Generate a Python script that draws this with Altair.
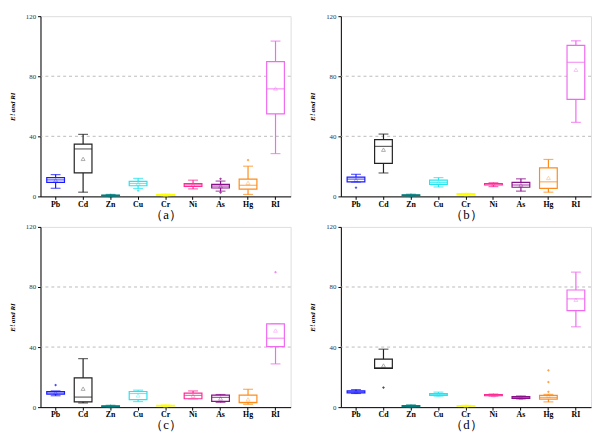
import altair as alt
import pandas as pd

CATS = ["Pb", "Cd", "Zn", "Cu", "Cr", "Ni", "As", "Hg", "RI"]
COLORS = ["#1a1aff", "#222222", "#008080", "#22e6f0", "#ffff00", "#ff2a95", "#8b108b", "#ff8c1a", "#f06af0"]
GRID = [40, 80]

# panel (a)
A_LO = [5.4, 2.8, 0.2, 5.2, 0.5, 5.0, 3.5, 1.3, 28.5]
A_Q1 = [9.3, 15.6, 0.4, 7.1, 0.7, 6.7, 5.6, 4.8, 54.9]
A_MED = [11.0, 31.6, 0.6, 8.6, 0.9, 7.8, 6.9, 7.4, 71.6]
A_Q3 = [12.5, 34.8, 0.9, 10.0, 1.2, 8.6, 8.0, 11.5, 89.7]
A_HI = [14.5, 41.3, 1.3, 12.0, 1.6, 10.8, 10.2, 20.1, 103.4]
A_MEAN = [10.8, 25.0, 0.6, 8.6, 1.0, 7.8, 6.8, 9.0, 71.8]
A_OUT_CAT = ["Cu", "As", "As", "Hg"]
A_OUT_VAL = [3.9, 11.7, 2.6, 24.2]

# panel (b)
B_LO = [9.6, 15.6, 0.3, 6.3, 0.8, 6.5, 3.5, 2.8, 49.3]
B_Q1 = [9.7, 22.0, 0.5, 8.0, 1.0, 7.6, 6.1, 5.4, 64.6]
B_MED = [11.5, 33.3, 0.8, 9.3, 1.4, 8.2, 7.6, 9.7, 89.3]
B_Q3 = [12.8, 37.8, 1.1, 10.8, 1.8, 8.6, 9.3, 19.0, 100.5]
B_HI = [14.7, 41.5, 1.4, 12.5, 2.0, 9.1, 11.7, 24.6, 103.6]
B_MEAN = [11.0, 31.1, 0.8, 9.3, 1.4, 8.0, 7.7, 12.3, 84.3]
B_OUT_CAT = ["Pb"]
B_OUT_VAL = [5.8]

# panel (c)
C_LO = [7.6, 2.8, 0.2, 3.7, 0.6, 5.6, 3.2, 1.9, 28.8]
C_Q1 = [8.7, 3.5, 0.4, 5.0, 0.8, 5.6, 3.9, 3.0, 40.3]
C_MED = [9.5, 6.7, 0.6, 9.1, 1.0, 7.8, 6.5, 3.2, 45.9]
C_Q3 = [10.4, 19.5, 0.9, 10.4, 1.2, 9.3, 8.0, 8.0, 55.4]
C_HI = [10.8, 32.3, 1.2, 11.3, 1.4, 10.8, 8.4, 11.9, 55.4]
C_MEAN = [9.6, 12.3, 0.6, 7.8, 1.0, 7.6, 5.8, 5.2, 51.0]
C_OUT_CAT = ["Pb", "RI"]
C_OUT_VAL = [14.7, 89.9]

# panel (d)
D_LO = [9.1, 25.8, 0.2, 7.4, 0.5, 7.4, 5.5, 3.5, 53.5]
D_Q1 = [9.5, 25.8, 0.4, 7.8, 0.7, 7.6, 5.8, 5.4, 64.3]
D_MED = [10.2, 26.2, 0.7, 8.4, 0.8, 8.0, 6.4, 6.5, 72.1]
D_Q3 = [10.8, 32.0, 1.0, 9.1, 1.0, 8.4, 7.1, 7.8, 78.0]
D_HI = [11.7, 38.6, 1.5, 10.0, 1.2, 8.7, 7.4, 8.5, 89.9]
D_MEAN = [10.2, 27.7, 0.7, 8.4, 0.8, 8.0, 6.4, 7.5, 71.5]
D_OUT_CAT = ["Cd", "Hg", "Hg", "Hg"]
D_OUT_VAL = [13.0, 24.5, 16.7, 10.2]

SERIF = "Times New Roman, Liberation Serif, serif"
cscale = alt.Scale(domain=CATS, range=COLORS)


def panel(lo, q1, med, q3, hi, mean, out_cat, out_val, caption):
    df = pd.DataFrame({"cat": CATS, "lo": lo, "q1": q1, "med": med,
                       "q3": q3, "hi": hi, "mean": mean})
    dout = pd.DataFrame({"cat": out_cat, "v": out_val})
    dgrid = pd.DataFrame({"g": GRID})

    x = alt.X("cat:N", sort=CATS,
              scale=alt.Scale(domain=CATS, paddingInner=0, paddingOuter=0.05),
              axis=alt.Axis(title=caption, labelAngle=0, labelFont=SERIF,
                            labelFontWeight="bold", labelFontSize=8, labelColor="#000",
                            tickSize=3, tickColor="#000", domainColor="#000",
                            labelPadding=1, titleFont=SERIF, titleFontSize=13,
                            titleFontWeight="normal", titlePadding=0, titleColor="#000"))
    yscale = alt.Scale(domain=[0, 120], nice=False)
    yaxis = alt.Axis(title="Eⁱᵣ and RI", values=[0, 20, 40, 60, 80, 100, 120],
                     labelExpr="datum.value % 40 == 0 ? datum.label : ''",
                     grid=False, tickSize=3, tickColor="#000", domainColor="#000",
                     labelFont=SERIF, labelFontSize=7, labelColor="#333",
                     labelPadding=2, titleFont=SERIF, titleFontSize=7,
                     titleFontStyle="italic", titleFontWeight="bold",
                     titleColor="#000", titlePadding=10)
    color = alt.Color("cat:N", scale=cscale, legend=None)

    base = alt.Chart(df)
    grid = alt.Chart(dgrid).mark_rule(color="#aaaaaa", strokeDash=[3, 3], strokeWidth=0.8).encode(
        y=alt.Y("g:Q", scale=yscale, axis=yaxis))
    whisk = base.mark_rule(strokeWidth=1.2).encode(
        x=x, y=alt.Y("lo:Q", scale=yscale), y2="hi:Q", color=color)
    cap_lo = base.mark_tick(size=10, thickness=1.2, orient="horizontal").encode(
        x=x, y=alt.Y("lo:Q", scale=yscale), color=color)
    cap_hi = base.mark_tick(size=10, thickness=1.2, orient="horizontal").encode(
        x=x, y=alt.Y("hi:Q", scale=yscale), color=color)
    box = base.mark_bar(size=18, fill="white", strokeWidth=1.2).encode(
        x=x, y=alt.Y("q1:Q", scale=yscale), y2="q3:Q",
        stroke=alt.Stroke("cat:N", scale=cscale, legend=None))
    median = base.mark_tick(size=18, thickness=1.2, orient="horizontal").encode(
        x=x, y=alt.Y("med:Q", scale=yscale), color=color)
    mean_pt = base.mark_point(shape="triangle-up", size=16, filled=False,
                              opacity=0.45, strokeWidth=0.8).encode(
        x=x, y=alt.Y("mean:Q", scale=yscale), color=color)
    outl = alt.Chart(dout).mark_point(shape="diamond", size=8, filled=True, opacity=0.8).encode(
        x=x, y=alt.Y("v:Q", scale=yscale), color=color)
    return alt.layer(grid, whisk, cap_lo, cap_hi, box, median, mean_pt, outl).properties(
        width=254, height=183)


pa = panel(A_LO, A_Q1, A_MED, A_Q3, A_HI, A_MEAN, A_OUT_CAT, A_OUT_VAL, "（a）")
pb = panel(B_LO, B_Q1, B_MED, B_Q3, B_HI, B_MEAN, B_OUT_CAT, B_OUT_VAL, "（b）")
pc = panel(C_LO, C_Q1, C_MED, C_Q3, C_HI, C_MEAN, C_OUT_CAT, C_OUT_VAL, "（c）")
pd_ = panel(D_LO, D_Q1, D_MED, D_Q3, D_HI, D_MEAN, D_OUT_CAT, D_OUT_VAL, "（d）")

chart = alt.vconcat(
    alt.hconcat(pa, pb, spacing=17),
    alt.hconcat(pc, pd_, spacing=17),
    spacing=0,
).properties(padding=0).configure_view(stroke="#444", strokeWidth=1).configure(
    background="white")

chart.save("out.html", embed_options={"renderer": "svg", "actions": False})
